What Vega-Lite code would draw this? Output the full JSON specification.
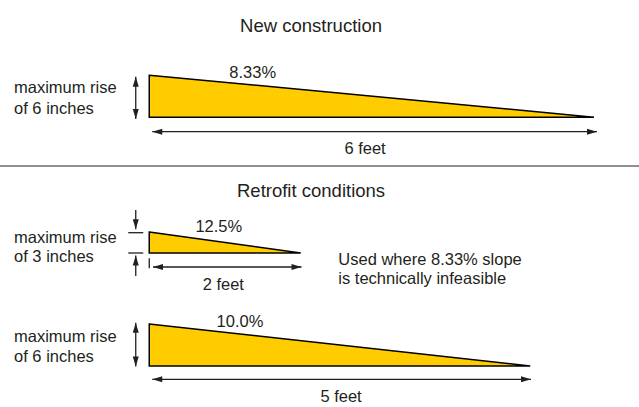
{
  "$schema": "https://vega.github.io/schema/vega-lite/v6.json",
  "width": 639,
  "height": 407,
  "padding": 0,
  "autosize": {"type": "none"},
  "config": {"view": {"stroke": null}},
  "datasets": {
    "ramps": [
      {"ramp": "new 6in", "x": 0, "top": 47.4, "base": 41.4},
      {"ramp": "new 6in", "x": 5.93, "top": 41.4, "base": 41.4},
      {"ramp": "retro 3in", "x": 0, "top": 25, "base": 22},
      {"ramp": "retro 3in", "x": 2.02, "top": 22, "base": 22},
      {"ramp": "retro 6in", "x": 0, "top": 11.85, "base": 5.85},
      {"ramp": "retro 6in", "x": 5.08, "top": 5.85, "base": 5.85}
    ],
    "lines": [
      {"kind": "dim", "x": 0.04, "x2": 5.97, "y": 39.33, "y2": 39.33},
      {"kind": "dim", "x": 0.05, "x2": 2.03, "y": 20.0, "y2": 20.0},
      {"kind": "dim", "x": 0.04, "x2": 5.09, "y": 3.96, "y2": 3.96},
      {"kind": "dim", "x": -0.18, "x2": -0.18, "y": 47.19, "y2": 41.14},
      {"kind": "dim", "x": -0.18, "x2": -0.18, "y": 12.04, "y2": 5.79},
      {"kind": "dim", "x": -0.18, "x2": -0.18, "y": 28.14, "y2": 25.39},
      {"kind": "dim", "x": -0.18, "x2": -0.18, "y": 21.64, "y2": 18.71},
      {"kind": "dim", "x": -0.28, "x2": -0.08, "y": 24.9, "y2": 24.9},
      {"kind": "dim", "x": -0.28, "x2": -0.08, "y": 22.0, "y2": 22.0},
      {"kind": "dim", "x": 0, "x2": 0, "y": 21.24, "y2": 19.81},
      {"kind": "sep", "x": -1.99, "x2": 6.53, "y": 34.43, "y2": 34.43}
    ],
    "heads": [
      {"x": 0.04, "y": 39.33, "angle": 180},
      {"x": 5.97, "y": 39.33, "angle": 0},
      {"x": 0.05, "y": 20.0, "angle": 180},
      {"x": 2.03, "y": 20.0, "angle": 0},
      {"x": 0.04, "y": 3.96, "angle": 180},
      {"x": 5.09, "y": 3.96, "angle": 0},
      {"x": -0.18, "y": 47.19, "angle": 270},
      {"x": -0.18, "y": 41.14, "angle": 90},
      {"x": -0.18, "y": 12.04, "angle": 270},
      {"x": -0.18, "y": 5.79, "angle": 90},
      {"x": -0.18, "y": 25.39, "angle": 90},
      {"x": -0.18, "y": 21.64, "angle": 270}
    ],
    "titles": [
      {"label": "New construction", "x": 2.157, "y": 53.55},
      {"label": "Retrofit conditions", "x": 2.157, "y": 30.04}
    ],
    "centered": [
      {"label": "8.33%", "x": 1.379, "y": 47.04},
      {"label": "6 feet", "x": 2.877, "y": 36.1},
      {"label": "12.5%", "x": 0.927, "y": 25.04},
      {"label": "2 feet", "x": 0.987, "y": 16.71},
      {"label": "10.0%", "x": 1.21, "y": 11.47},
      {"label": "5 feet", "x": 2.557, "y": 0.73}
    ],
    "notes": [
      {"label": "maximum rise", "x": -1.803, "y": 44.81},
      {"label": "of 6 inches", "x": -1.803, "y": 41.79},
      {"label": "maximum rise", "x": -1.803, "y": 23.47},
      {"label": "of 3 inches", "x": -1.803, "y": 20.76},
      {"label": "maximum rise", "x": -1.803, "y": 9.33},
      {"label": "of 6 inches", "x": -1.803, "y": 6.47},
      {"label": "Used where 8.33% slope", "x": 2.521, "y": 20.33},
      {"label": "is technically infeasible", "x": 2.521, "y": 17.57}
    ]
  },
  "layer": [
    {
      "data": {"name": "ramps"},
      "mark": {"type": "area", "fill": "#FFCC00", "stroke": "#000000", "strokeWidth": 1.5, "strokeJoin": "miter", "fillOpacity": 1},
      "encoding": {
        "x": {"field": "x", "type": "quantitative", "scale": {"domain": [-1.99, 6.53], "nice": false, "zero": false}, "axis": null},
        "y": {"field": "top", "type": "quantitative", "scale": {"domain": [0, 58.142857], "nice": false, "zero": false}, "axis": null},
        "y2": {"field": "base"},
        "detail": {"field": "ramp", "type": "nominal"}
      }
    },
    {
      "data": {"name": "lines"},
      "transform": [{"filter": "datum.kind === 'dim'"}],
      "mark": {"type": "rule", "color": "#231F20", "strokeWidth": 1.3},
      "encoding": {
        "x": {"field": "x", "type": "quantitative"},
        "x2": {"field": "x2"},
        "y": {"field": "y", "type": "quantitative"},
        "y2": {"field": "y2"}
      }
    },
    {
      "data": {"name": "lines"},
      "transform": [{"filter": "datum.kind === 'sep'"}],
      "mark": {"type": "rule", "color": "#231F20", "strokeWidth": 1.2},
      "encoding": {
        "x": {"field": "x", "type": "quantitative"},
        "x2": {"field": "x2"},
        "y": {"field": "y", "type": "quantitative"},
        "y2": {"field": "y2"}
      }
    },
    {
      "data": {"name": "heads"},
      "mark": {"type": "point", "shape": "M0,0L-2,-0.6L-2,0.6Z", "size": 100, "filled": true, "color": "#231F20", "opacity": 1, "strokeWidth": 0},
      "encoding": {
        "x": {"field": "x", "type": "quantitative"},
        "y": {"field": "y", "type": "quantitative"},
        "angle": {"field": "angle", "type": "quantitative", "scale": null}
      }
    },
    {
      "data": {"name": "titles"},
      "mark": {"type": "text", "font": "Liberation Sans", "fontSize": 18.5, "align": "center", "baseline": "alphabetic", "color": "#231F20"},
      "encoding": {
        "x": {"field": "x", "type": "quantitative"},
        "y": {"field": "y", "type": "quantitative"},
        "text": {"field": "label"}
      }
    },
    {
      "data": {"name": "centered"},
      "mark": {"type": "text", "font": "Liberation Sans", "fontSize": 16.5, "align": "center", "baseline": "alphabetic", "color": "#231F20"},
      "encoding": {
        "x": {"field": "x", "type": "quantitative"},
        "y": {"field": "y", "type": "quantitative"},
        "text": {"field": "label"}
      }
    },
    {
      "data": {"name": "notes"},
      "mark": {"type": "text", "font": "Liberation Sans", "fontSize": 16.5, "align": "left", "baseline": "alphabetic", "color": "#231F20"},
      "encoding": {
        "x": {"field": "x", "type": "quantitative"},
        "y": {"field": "y", "type": "quantitative"},
        "text": {"field": "label"}
      }
    }
  ]
}
